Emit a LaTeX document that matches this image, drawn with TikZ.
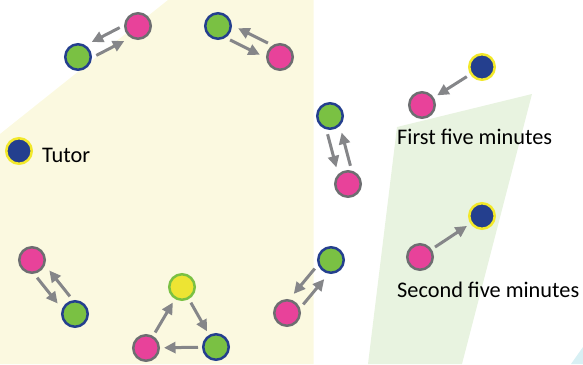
\documentclass[tikz,border=0pt]{standalone}
\usepackage{fontspec}
\setmainfont{Carlito}
\usetikzlibrary{calc,arrows.meta}
\definecolor{bgyellow}{HTML}{FBF9E0}
\definecolor{bggreen}{HTML}{E8F3E0}
\definecolor{bgcyan}{HTML}{D8F0F4}
\definecolor{cpink}{HTML}{E8429A}
\definecolor{cgrey}{HTML}{6D6E71}
\definecolor{cgreen}{HTML}{7AC143}
\definecolor{cnavy}{HTML}{243F8E}
\definecolor{cyel}{HTML}{EDE433}
\definecolor{cyelstroke}{HTML}{F2E82A}
\definecolor{carrow}{HTML}{858689}
\tikzset{
  pupil/.style={circle,minimum size=25.5pt,inner sep=0pt,line width=2.5pt,fill=cpink,draw=cgrey},
  peer/.style={circle,minimum size=25.5pt,inner sep=0pt,line width=2.5pt,fill=cgreen,draw=cnavy},
  tutor/.style={circle,minimum size=25.5pt,inner sep=0pt,line width=2.5pt,fill=cnavy,draw=cyelstroke},
  lead/.style={circle,minimum size=25.5pt,inner sep=0pt,line width=2.5pt,fill=cyel,draw=cgreen},
  arr/.style={draw=carrow,line width=3pt,-{Triangle[length=11.5pt,width=11pt]}},
  lbl/.style={anchor=base west,inner sep=0pt,font=\fontsize{22.3pt}{24pt}\selectfont,text=black}
}
% offset arrow from #1 to #2, on the right-hand side of travel
\newcommand{\pairarrow}[2]{%
  \path[arr] ($(#1)!17pt!(#2)!7pt!-90:(#2)$) -- ($(#2)!19pt!(#1)!7pt!90:(#1)$);}
\newcommand{\onearrow}[2]{%
  \path[arr] ($(#1)!18pt!(#2)$) -- ($(#2)!18pt!(#1)$);}
\begin{document}
\begin{tikzpicture}[x=1pt,y=-1pt]
\useasboundingbox (0,0) rectangle (583,364);
\fill[bgyellow] (0,134) -- (168,0) -- (313.5,0) -- (313.5,364) -- (0,364) -- cycle;
\fill[bggreen] (397,127) -- (532,94) -- (462,364) -- (368,364) -- cycle;
\fill[bgcyan] (583,347) -- (583,364) -- (571,364) -- cycle;

% top-left pair
\node[pupil] (p1) at (138,26) {};
\node[peer]  (g1) at (78,57) {};
% top pair
\node[peer]  (g2) at (218,26) {};
\node[pupil] (p2) at (280,57) {};
% right pair
\node[peer]  (g3) at (330,116) {};
\node[pupil] (p3) at (348,184) {};
% bottom-left pair
\node[pupil] (p4) at (32,260) {};
\node[peer]  (g4) at (75,314) {};
% bottom-right pair
\node[pupil] (p5) at (287,313) {};
\node[peer]  (g5) at (331,260) {};
% triangle
\node[lead]  (y6) at (182,287) {};
\node[pupil] (p6) at (146,348) {};
\node[peer]  (g6) at (216,347) {};
% tutor legend
\node[tutor] (t0) at (19,151) {};
\node[lbl] (tl) at (42,162) {Tutor};
% first five minutes
\node[tutor] (t1) at (482,67) {};
\node[pupil] (p7) at (422,105) {};
\node[lbl] (l1) at (397,144) {First five minutes};
% second five minutes
\node[tutor] (t2) at (482,216) {};
\node[pupil] (p8) at (420,257) {};
\node[lbl] (l2) at (397,297) {Second five minutes};

\pairarrow{p1}{g1}\pairarrow{g1}{p1}
\pairarrow{g2}{p2}\pairarrow{p2}{g2}
\pairarrow{g3}{p3}\pairarrow{p3}{g3}
\pairarrow{p4}{g4}\pairarrow{g4}{p4}
\pairarrow{p5}{g5}\pairarrow{g5}{p5}
\onearrow{p6}{y6}\onearrow{y6}{g6}\onearrow{g6}{p6}
\onearrow{t1}{p7}
\onearrow{p8}{t2}
\end{tikzpicture}
\end{document}
